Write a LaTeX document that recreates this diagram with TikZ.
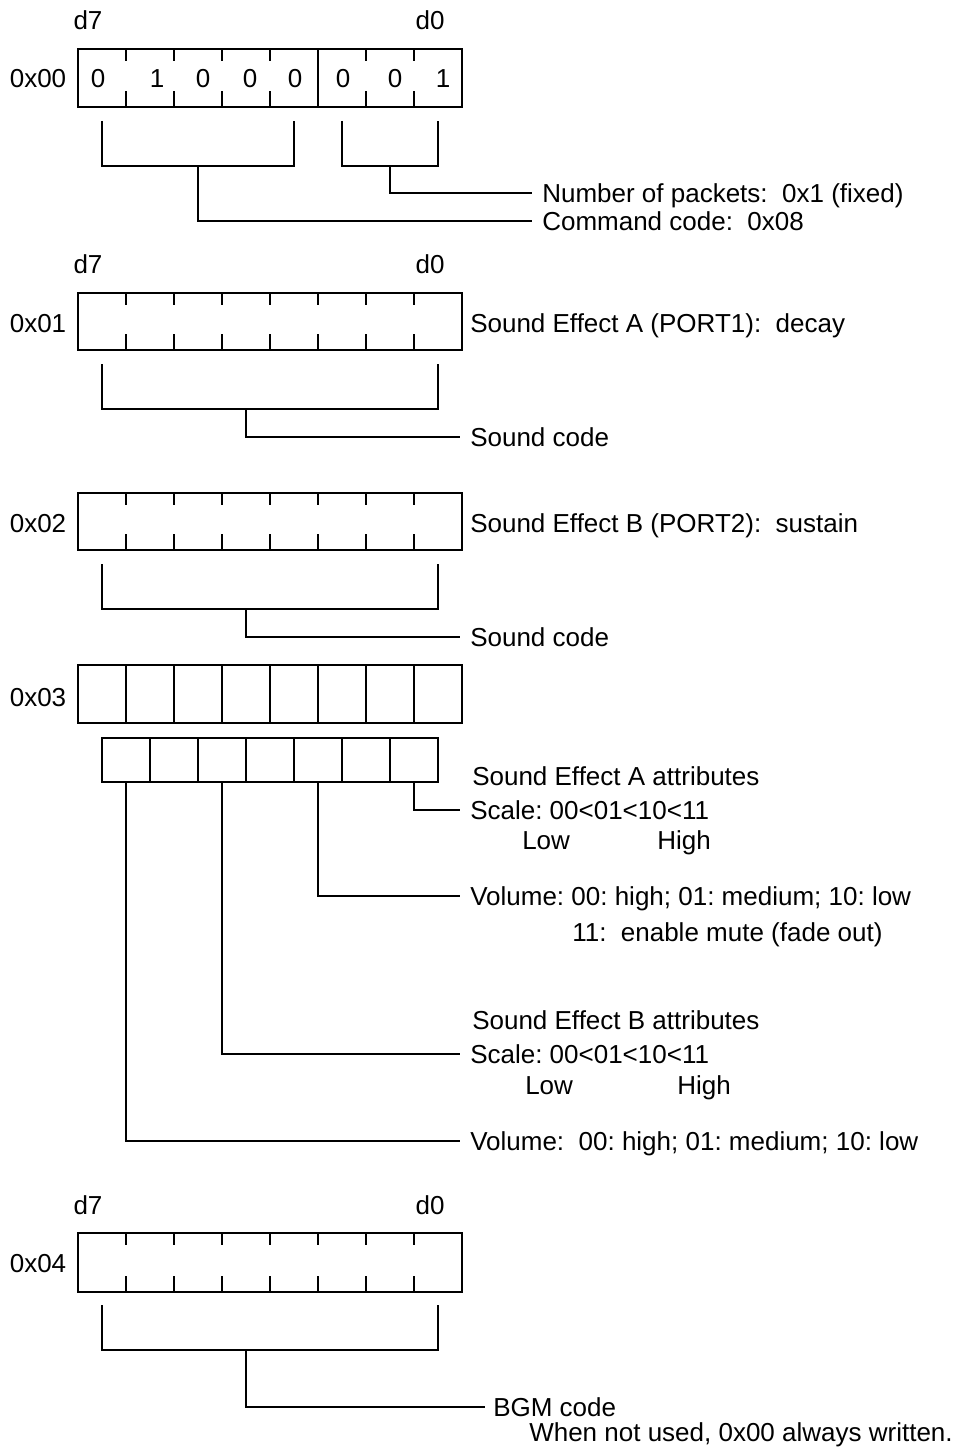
\documentclass[tikz,border=0pt]{standalone}
\usepackage{fontspec}
\setmainfont{Liberation Sans}
\frenchspacing
\newcommand\tickbyte[2]{%
  \draw[ln] (78,#1) rectangle (462,#2);
  \foreach \i in {1,...,7}{
    \draw[ln] ({78+48*\i},#1) -- ++(0,12);
    \draw[ln] ({78+48*\i},#2) -- ++(0,-16);}}
\begin{document}
\begin{tikzpicture}[x=0.75pt,y=-0.75pt,
  ln/.style={line width=2pt},
  txt/.style={inner sep=0pt, text height=13.9pt, text depth=0pt, font=\fontsize{19.5}{23}\selectfont\frenchspacing},
  lbl/.style={txt, anchor=west}]
\useasboundingbox (0,0) rectangle (964,1448);

% ---------- 0x00 ----------
\node[txt] (a0) at (38,78) {0x00};
\node[txt] (d7a) at (88,20) {d7};
\node[txt] (d0a) at (430,20) {d0};
\tickbyte{49}{107}
\draw[ln] (318,49) -- (318,107);
\node[txt] (b7) at (98,78) {0};
\node[txt] (b6) at (157,78) {1};
\node[txt] (b5) at (203,78) {0};
\node[txt] (b4) at (250,78) {0};
\node[txt] (b3) at (295,78) {0};
\node[txt] (b2) at (343,78) {0};
\node[txt] (b1) at (395,78) {0};
\node[txt] (b0) at (443,78) {1};
\draw[ln] (102,121) |- (294,166) -- (294,121);
\draw[ln] (342,121) |- (438,166) -- (438,121);
\coordinate (s0a) at (390,166);
\coordinate (s0b) at (198,166);
\node[lbl] (npk) at (542,193) {Number of packets:\ \ 0x1 (fixed)};
\node[lbl] (cmd) at (542,221) {Command code:\ \ 0x08};
\draw[ln] (s0a) |- ([xshift=-7.5pt]npk.west);
\draw[ln] (s0b) |- ([xshift=-7.5pt]cmd.west);

% ---------- 0x01 ----------
\node[txt] (a1) at (38,323) {0x01};
\node[txt] (d7b) at (88,264) {d7};
\node[txt] (d0b) at (430,264) {d0};
\tickbyte{293}{350}
\node[lbl] (sea) at (470,323) {Sound Effect A (PORT1):\ \ decay};
\draw[ln] (102,364) |- (438,409) -- (438,364);
\coordinate (s1) at (246,409);
\node[lbl] (sc1) at (470,437) {Sound code};
\draw[ln] (s1) |- ([xshift=-7.5pt]sc1.west);

% ---------- 0x02 ----------
\node[txt] (a2) at (38,523) {0x02};
\tickbyte{493}{550}
\node[lbl] (seb) at (470,523) {Sound Effect B (PORT2):\ \ sustain};
\draw[ln] (102,564) |- (438,609) -- (438,564);
\coordinate (s2) at (246,609);
\node[lbl] (sc2) at (470,637) {Sound code};
\draw[ln] (s2) |- ([xshift=-7.5pt]sc2.west);

% ---------- 0x03 ----------
\node[txt] (a3) at (38,697) {0x03};
\draw[ln] (78,665) rectangle (462,723);
\foreach \i in {1,...,7}{\draw[ln] ({78+48*\i},665) -- ({78+48*\i},723);}
\draw[ln] (102,738) rectangle (438,782);
\foreach \i in {1,...,6}{\draw[ln] ({102+48*\i},738) -- ({102+48*\i},782);}
\coordinate (p1) at (414,782);
\coordinate (p2) at (318,782);
\coordinate (p3) at (222,782);
\coordinate (p4) at (126,782);
\node[lbl] (atta) at (472,776) {Sound Effect A attributes};
\node[lbl] (scla) at (470,810) {Scale: 00<01<10<11};
\node[lbl] (lowa) at (522,840) {Low};
\node[lbl] (higha) at (657,840) {High};
\node[lbl] (vola) at (470,896) {Volume: 00: high; 01: medium; 10: low};
\node[lbl] (mute) at (572,932) {11:\ \ enable mute (fade out)};
\node[lbl] (attb) at (472,1020) {Sound Effect B attributes};
\node[lbl] (sclb) at (470,1054) {Scale: 00<01<10<11};
\node[lbl] (lowb) at (525,1085) {Low};
\node[lbl] (highb) at (677,1085) {High};
\node[lbl] (volb) at (470,1141) {Volume:\ \ 00: high; 01: medium; 10: low};
\draw[ln] (p1) |- ([xshift=-7.5pt]scla.west);
\draw[ln] (p2) |- ([xshift=-7.5pt]vola.west);
\draw[ln] (p3) |- ([xshift=-7.5pt]sclb.west);
\draw[ln] (p4) |- ([xshift=-7.5pt]volb.west);

% ---------- 0x04 ----------
\node[txt] (a4) at (38,1263) {0x04};
\node[txt] (d7c) at (88,1205) {d7};
\node[txt] (d0c) at (430,1205) {d0};
\tickbyte{1233}{1292}
\draw[ln] (102,1305) |- (438,1350) -- (438,1305);
\coordinate (s4) at (246,1350);
\node[lbl] (bgm) at (493,1407) {BGM code};
\node[lbl] (nuse) at (529,1432) {When not used, 0x00 always written.};
\draw[ln] (s4) |- ([xshift=-6pt]bgm.west);
\end{tikzpicture}
\end{document}
